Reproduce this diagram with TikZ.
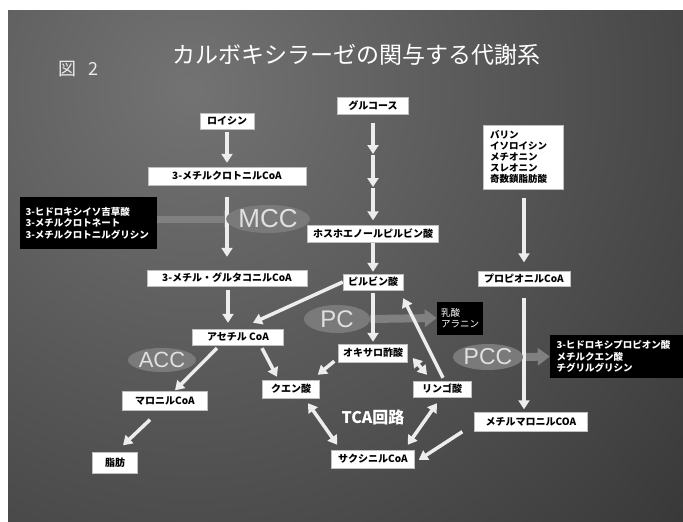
\documentclass[tikz,border=0pt]{standalone}
\usepackage{fontspec}
\setmainfont{Liberation Sans}
\newfontfamily\jp{Noto Sans CJK JP}
\usetikzlibrary{arrows.meta,calc,shapes.geometric}
\pgfdeclarelayer{bg}
\pgfdeclarelayer{arr}
\pgfsetlayers{bg,arr,main}
\tikzset{
  box/.style={fill=white, draw=gray!50, line width=0.4pt, text=black,
    font=\jp\bfseries\fontsize{10}{12}\selectfont, inner sep=0pt},
  bbox/.style={fill=black, text=white, align=left, inner ysep=0pt,
    font=\jp\bfseries\fontsize{9.5}{11.5}\selectfont},
  enz/.style={ellipse, fill=black!52, text=white!88!black, inner sep=0pt},
  warr/.style={draw=white!93!black, line width=3.5pt, -{Triangle[width=11pt,length=9pt]}},
  wdarr/.style={draw=white!93!black, line width=3.5pt,
    {Triangle[width=11pt,length=9pt]}-{Triangle[width=11pt,length=9pt]}},
  garr/.style={draw=black!50, line width=8pt, -{Triangle[width=17pt,length=12pt]}},
}
\begin{document}
\begin{tikzpicture}[x=1pt,y=-1pt]
\useasboundingbox (0,0) rectangle (683,522);
\begin{pgfonlayer}{bg}
  \fill[white] (0,0) rectangle (683,522);
  \begin{scope}
    \clip (8,10) rectangle (683,522);
    \fill[black!95] (8,10) rectangle (683,522);
    \fill[inner color=black!55, outer color=black!95] (190,90) circle (1150pt);
  \end{scope}
\end{pgfonlayer}

% title
\node[text=white, font=\jp\fontsize{23}{23}\selectfont] (title) at (356,55) {カルボキシラーゼの関与する代謝系};
\node[text=white!92!black, font=\jp\fontsize{18}{18}\selectfont] (fig) at (78.5,69) {図\hspace{12pt}2};

% boxes
\node[box, minimum width=54, minimum height=16] (leu) at (227,121) {ロイシン};
\node[box, minimum width=71, minimum height=17] (glc) at (373,106) {グルコース};
\node[box, minimum width=158, minimum height=18] (mcrot) at (227,176) {3-メチルクロトニルCoA};
\node[box, align=left, text width=66, inner xsep=7, minimum height=64,
  font=\jp\bfseries\fontsize{9.5}{11}\selectfont] (src) at (523,157)
  {バリン\\イソロイシン\\メチオニン\\スレオニン\\奇数鎖脂肪酸};
\node[bbox, text width=125, inner xsep=6, minimum height=52] (hib) at (88,223)
  {3-ヒドロキシイソ吉草酸\\3-メチルクロトネート\\3-メチルクロトニルグリシン};
\node[enz, minimum width=76, minimum height=28, font=\fontsize{26}{26}\selectfont] (mcc) at (268,219) {MCC};
\node[box, minimum width=131, minimum height=17] (pep) at (373,234) {ホスホエノールピルビン酸};
\node[box, minimum width=160, minimum height=16] (mglut) at (227,278) {3-メチル・グルタコニルCoA};
\node[box, minimum width=60, minimum height=16] (pyr) at (373,282) {ピルビン酸};
\node[box, minimum width=92, minimum height=15] (prop) at (524,279) {プロピオニルCoA};
\node[box, minimum width=91, minimum height=16] (acoa) at (238,337) {アセチル CoA};
\node[enz, minimum width=66, minimum height=28, font=\fontsize{24}{24}\selectfont] (pc) at (337,319) {PC};
\node[bbox, text width=38, inner xsep=4, minimum height=33,
  font=\jp\fontsize{9.5}{11.5}\selectfont] (lac) at (460,318) {乳酸\\アラニン};
\node[box, minimum width=69, minimum height=18] (oaa) at (373,353) {オキサロ酢酸};
\node[enz, minimum width=68, minimum height=24, font=\fontsize{22}{22}\selectfont] (acc) at (162,360) {ACC};
\node[enz, minimum width=70, minimum height=26, font=\fontsize{23}{23}\selectfont] (pcc) at (488,357) {PCC};
\node[bbox, text width=120, inner xsep=6.5, minimum height=43] (hp) at (616.5,356.5)
  {3-ヒドロキシプロピオン酸\\メチルクエン酸\\チグリルグリシン};
\node[box, minimum width=57, minimum height=18] (cit) at (291,389) {クエン酸};
\node[box, minimum width=58, minimum height=16] (mal) at (442,389) {リンゴ酸};
\node[box, minimum width=85, minimum height=19] (malcoa) at (165,401) {マロニルCoA};
\node[box, minimum width=113, minimum height=19] (mmcoa) at (531,422) {メチルマロニルCOA};
\node[text=white, font=\jp\bfseries\fontsize{16}{16}\selectfont] (tca) at (373,417) {TCA回路};
\node[box, minimum width=83, minimum height=18] (succ) at (373,459) {サクシニルCoA};
\node[box, minimum width=45, minimum height=21] (fat) at (115,463) {脂肪};

\coordinate (g1) at (373,154);
\coordinate (g2) at (373,187);

\begin{pgfonlayer}{arr}
  % gray arrows
  \draw[garr, line width=7pt] (hib.east |- mcc.west) -- ($(mcc.west)+(10,0)$);
  \draw[garr] (pc.east) -- (lac.west);
  \draw[garr] (pcc.east) -- (hp.west);
  % white arrows
  \draw[warr, shorten <=3pt, shorten >=4pt] (leu.south) -- (mcrot.north);
  \draw[warr, shorten <=12pt, shorten >=13pt] (mcrot.south) -- (mglut.north);
  \draw[warr, shorten <=8pt] (glc.south) -- (g1);
  \draw[warr, shorten <=1pt] (g1) -- (g2);
  \draw[warr, shorten <=1pt, shorten >=5pt] (g2) -- (pep.north);
  \draw[warr, shorten >=2pt] (pep.south) -- (pyr.north);
  \draw[warr, shorten <=4pt, shorten >=6pt] ($(mglut.south)+(1,0)$) -- ($(mglut.south |- acoa.north)+(1,0)$);
  \draw[warr, shorten <=9pt, shorten >=9pt] ($(src.south)+(1,0)$) -- ($(src.south |- prop.north)+(1,0)$);
  \draw[warr] (pyr.west) -- ($(acoa.north)+(15,-6)$);
  \draw[warr, shorten <=3pt, shorten >=2pt] (pyr.south) -- (oaa.north);
  \draw[warr] ($(acoa.south)+(-21,3)$) -- ($(malcoa.north)+(10,-1)$);
  \draw[warr] ($(acoa.south)+(24,3)$) -- ($(cit.north)+(-14,-3)$);
  \draw[warr] ($(oaa.south west)+(-4,-1)$) -- ($(cit.north east)+(-2,-5)$);
  \draw[warr] ($(mal.north)+(1,-3)$) -- ($(pyr.south east)+(0,8)$);
  \draw[wdarr] ($(oaa.east)+(5,5)$) -- ($(mal.north)+(-15,-6)$);
  \draw[warr, shorten <=11pt, shorten >=3pt] (prop.south) -- (prop.south |- mmcoa.north);
  \draw[wdarr] ($(cit.south)+(17,5)$) -- ($(succ.north west)+(6,-5)$);
  \draw[wdarr] ($(succ.north east)+(-7,-5)$) -- ($(mal.south)+(-5,6)$);
  \draw[warr] ($(mmcoa.south west)+(-12,0)$) -- ($(succ.east)+(4,1)$);
  \draw[warr] ($(malcoa.south)+(-15,9)$) -- ($(fat.north)+(8,-7)$);
\end{pgfonlayer}
\end{tikzpicture}
\end{document}
